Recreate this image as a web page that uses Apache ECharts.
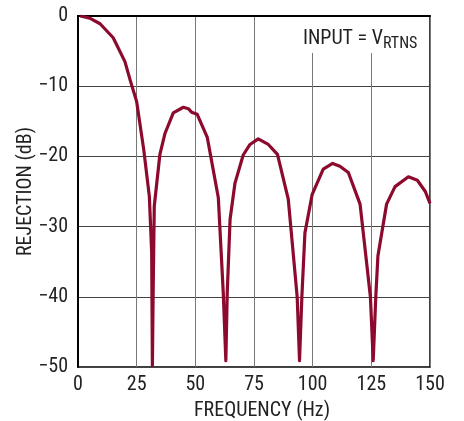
<!DOCTYPE html>
<html>
<head>
<meta charset="utf-8">
<script src="https://cdn.jsdelivr.net/npm/echarts@6/dist/echarts.min.js"></script>
<style>html,body{margin:0;padding:0;background:#fff}#c{width:464px;height:421px}</style>
</head>
<body>
<div id="c"></div>
<script>
var freq = [1, 5, 9.4, 15, 20, 22.2, 25, 28, 30.4, 31.4, 31.7, 32, 32.5, 34.9, 37.1, 40.6, 44.9, 47, 48.4, 50.8, 55.1, 59.8, 61.9, 63.0, 63.6, 64.8, 66.9, 70.4, 73.3, 76.8, 81.1, 85, 87, 89.6, 93.4, 94.4, 95.4, 96.7, 99.8, 104.5, 108.5, 111.6, 115.2, 120.2, 124.6, 125.8, 126.9, 127.8, 131.5, 135.1, 140.8, 144.6, 148, 150];
var rejection = [0, -0.3, -1.1, -3.1, -6.5, -9.1, -12.2, -19, -25.7, -33.7, -49.8, -40, -27.1, -19.7, -16.7, -13.8, -13, -13.2, -13.7, -14.0, -17.3, -25.9, -39.4, -49.1, -39.4, -29.0, -23.8, -19.8, -18.3, -17.5, -18.3, -19.7, -22.5, -26.1, -40, -49.1, -40, -30.9, -25.4, -21.8, -21.0, -21.4, -22.3, -26.8, -40, -49.1, -40, -34.2, -26.8, -24.3, -22.9, -23.4, -25, -26.7];
var xTicks = [0, 25, 50, 75, 100, 125, 150];
var yTicks = [-50, -40, -30, -20, -10, 0];
var xTitle = 'FREQUENCY (Hz)';
var yTitle = 'REJECTION (dB)';
var noteMain = 'INPUT = V';
var noteSub = 'RTNS';

var FONT = '"Roboto Condensed", "DejaVu Sans Condensed", sans-serif';
var chart = echarts.init(document.getElementById('c'));
var pts = freq.map(function (f, i) { return [f, rejection[i]]; });
chart.setOption({
  animation: false,
  grid: { left: 78, right: 34, top: 16, bottom: 54, outerBoundsMode: 'none', containLabel: false,
    show: true, borderColor: '#000', borderWidth: 1.5, backgroundColor: 'transparent' },
  xAxis: {
    type: 'value', min: xTicks[0], max: xTicks[xTicks.length - 1], interval: 25,
    name: xTitle, nameLocation: 'middle', nameGap: 34, nameMoveOverlap: false,
    nameTextStyle: { fontFamily: FONT, fontSize: 20, color: '#222', padding: [0, 0, 0, 16] },
    axisLine: { lineStyle: { color: '#000', width: 2 } },
    axisTick: { show: false },
    axisLabel: { fontFamily: FONT, fontSize: 20, color: '#222', margin: 8 },
    splitLine: { show: true, lineStyle: { color: '#777', width: 1 } }
  },
  yAxis: {
    type: 'value', min: yTicks[0], max: yTicks[yTicks.length - 1], interval: 10,
    name: yTitle, nameLocation: 'middle', nameGap: 42, nameRotate: 90, nameMoveOverlap: false,
    nameTextStyle: { fontFamily: FONT, fontSize: 20, color: '#222' },
    axisLine: { show: true, lineStyle: { color: '#000', width: 2 } },
    axisTick: { show: false },
    axisLabel: { fontFamily: FONT, fontSize: 20, color: '#222', margin: 10,
      formatter: function (v) { return v < 0 ? '\u2212' + Math.abs(v) : String(v); } },
    splitLine: { show: true, lineStyle: { color: '#444', width: 1 } }
  },
  graphic: [
    { type: 'rect', shape: { x: 296, y: 17, width: 132, height: 36 }, style: { fill: '#fff' }, z: 10 },
    { type: 'text', x: 383, y: 39, z: 11, style: { text: noteMain, font: '20px ' + FONT, fill: '#222', textAlign: 'right', textVerticalAlign: 'middle' } },
    { type: 'text', x: 383, y: 44, z: 11, style: { text: noteSub, font: '16px ' + FONT, fill: '#222', textAlign: 'left', textVerticalAlign: 'middle' } }
  ],
  series: [{
    type: 'line', data: pts, showSymbol: false, smooth: false, z: 5,
    lineStyle: { color: '#8c0a2e', width: 3.2, join: 'round' }
  }]
});
</script>
</body>
</html>
